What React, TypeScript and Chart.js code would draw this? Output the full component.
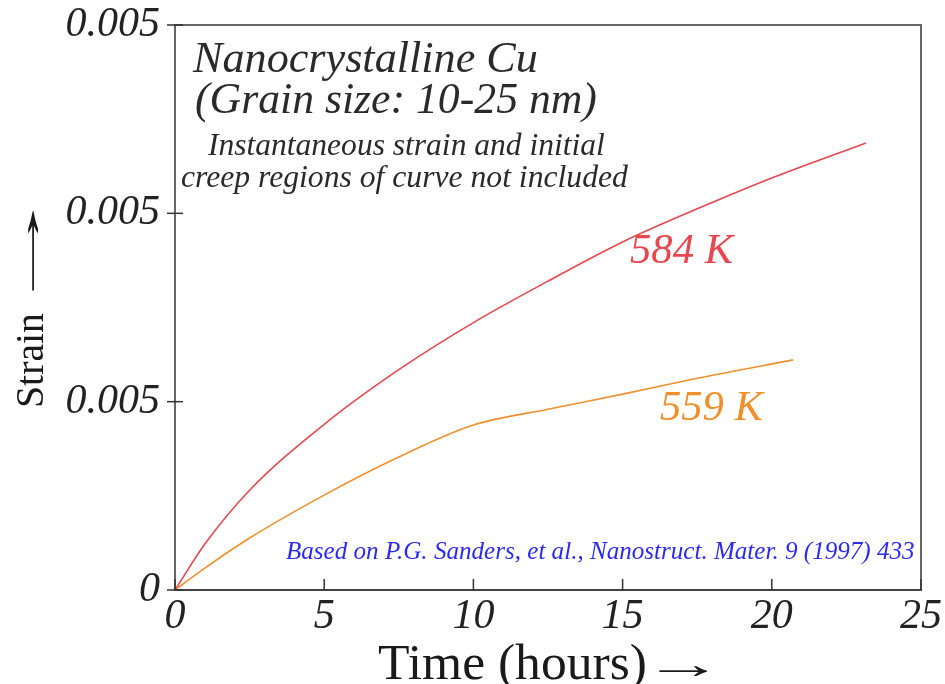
import React, { useEffect, useRef } from "react";
import { Chart, registerables } from "chart.js";

Chart.register(...registerables);

// ---- data ----
const hours584 = [0, 1, 2.5, 5, 7.5, 10, 12.5, 15, 17.5, 20, 23.16];
const strain584 = [0, 0.00122, 0.00265, 0.0044, 0.00585, 0.0071, 0.0082, 0.00924, 0.01012, 0.01094, 0.01187];

const hours559 = [0, 1, 2.5, 5, 7.5, 10, 12.5, 15, 17.5, 20.71];
const strain559 = [0, 0.00058, 0.00138, 0.00252, 0.00353, 0.00438, 0.0048, 0.0052, 0.00562, 0.00611];

const xTickValues = [0, 5, 10, 15, 20, 25];
const xTickLabels = ["0", "5", "10", "15", "20", "25"];
const yTickValues = [0, 0.005, 0.01, 0.015];
const yTickLabels = ["0", "0.005", "0.005", "0.005"];

const seriesLabels = ["584 K", "559 K"];
// label anchor (hours, strain) at text baseline-left
const labelHours = [15.25, 16.25];
const labelStrain = [0.00868, 0.00451];

const titleLines = ["Nanocrystalline Cu", "(Grain size: 10-25 nm)"];
const noteLines = ["Instantaneous strain and initial", "creep regions of curve not included"];
const citation = "Based on P.G. Sanders, et al., Nanostruct. Mater. 9 (1997) 433";
const xTitle = "Time (hours)";
const yTitle = "Strain";
const arrowChar = "→";

const SERIF = "'Liberation Serif', 'Times New Roman', serif";
const RED = "#e8474f";
const ORANGE = "#f0902c";

function fitSize(ctx: CanvasRenderingContext2D, text: string, width: number, style: string) {
  ctx.font = `${style} 100px ${SERIF}`;
  const w = ctx.measureText(text).width;
  return (100 * width) / w;
}

function drawFit(
  ctx: CanvasRenderingContext2D,
  text: string,
  x: number,
  y: number,
  width: number,
  style: string,
  color: string
) {
  const size = fitSize(ctx, text, width, style);
  ctx.font = `${style} ${size}px ${SERIF}`;
  ctx.fillStyle = color;
  ctx.textAlign = "left";
  ctx.textBaseline = "alphabetic";
  ctx.fillText(text, x, y);
}

// arrow glyph stretched so that its ink spans [x, x+length], shaft centred on y
function drawArrow(ctx: CanvasRenderingContext2D, x: number, y: number, length: number, size: number, color: string) {
  ctx.font = `normal ${size}px ${SERIF}`;
  ctx.textAlign = "left";
  ctx.textBaseline = "alphabetic";
  const m = ctx.measureText(arrowChar);
  const inkL = -m.actualBoundingBoxLeft;
  const inkW = m.actualBoundingBoxRight + m.actualBoundingBoxLeft;
  const mid = (m.actualBoundingBoxAscent - m.actualBoundingBoxDescent) / 2;
  const sx = length / inkW;
  ctx.save();
  ctx.translate(x, y + mid);
  ctx.scale(sx, 1);
  ctx.fillStyle = color;
  ctx.fillText(arrowChar, -inkL, 0);
  ctx.restore();
}

const decorPlugin = {
  id: "decor",
  afterDraw(chart: any) {
    const { ctx, chartArea, scales } = chart;
    const xs = scales.x;
    const ys = scales.y;
    ctx.save();
    // frame
    ctx.strokeStyle = "#666";
    ctx.lineWidth = 2;
    ctx.strokeRect(chartArea.left, chartArea.top, chartArea.right - chartArea.left, chartArea.bottom - chartArea.top);
    ctx.strokeStyle = "#444";
    ctx.beginPath();
    ctx.moveTo(chartArea.left, chartArea.bottom);
    ctx.lineTo(chartArea.right, chartArea.bottom);
    ctx.stroke();
    // tick marks
    ctx.lineWidth = 1.5;
    ctx.strokeStyle = "#333";
    yTickValues.forEach((v) => {
      const py = ys.getPixelForValue(v);
      ctx.beginPath();
      ctx.moveTo(chartArea.left - 8, py);
      ctx.lineTo(chartArea.left + 8, py);
      ctx.stroke();
    });
    xTickValues.forEach((v) => {
      const px = xs.getPixelForValue(v);
      ctx.beginPath();
      ctx.moveTo(px, chartArea.bottom);
      ctx.lineTo(px, chartArea.bottom - 11);
      ctx.stroke();
    });

    // annotation text block
    drawFit(ctx, titleLines[0], chartArea.left + 18, chartArea.top + 47, 345, "italic", "#2a2a2a");
    drawFit(ctx, titleLines[1], chartArea.left + 20, chartArea.top + 88, 402, "italic", "#2a2a2a");
    drawFit(ctx, noteLines[0], chartArea.left + 33, chartArea.top + 130, 397, "italic", "#2a2a2a");
    drawFit(ctx, noteLines[1], chartArea.left + 6, chartArea.top + 162, 447, "italic", "#2a2a2a");

    // citation
    drawFit(ctx, citation, chartArea.left + 111, chartArea.bottom - 31, 629, "italic", "#2b2bf0");

    // series labels
    const colors = [RED, ORANGE];
    seriesLabels.forEach((t, i) => {
      drawFit(ctx, t, xs.getPixelForValue(labelHours[i]), ys.getPixelForValue(labelStrain[i]), 103, "italic", colors[i]);
    });

    // x axis title
    drawFit(ctx, xTitle, 378, 679, 269, "normal", "#1a1a1a");
    drawArrow(ctx, 658, 671, 50, 42, "#1a1a1a");

    // y axis title (rotated)
    ctx.save();
    ctx.translate(43, 408);
    ctx.rotate(-Math.PI / 2);
    drawFit(ctx, yTitle, 0, 0, 95, "normal", "#1a1a1a");
    drawArrow(ctx, 115, -10, 83, 42, "#1a1a1a");
    ctx.restore();

    ctx.restore();
  },
};

export default function App() {
  const canvasRef = useRef<HTMLCanvasElement | null>(null);

  useEffect(() => {
    const canvas = canvasRef.current;
    if (!canvas) return;
    const tickFont = { family: SERIF, style: "italic" as const, size: 42 };
    const chart = new Chart(canvas, {
      type: "line",
      data: {
        datasets: [
          {
            label: seriesLabels[0],
            data: hours584.map((h, i) => ({ x: h, y: strain584[i] })),
            borderColor: RED,
            borderWidth: 1.6,
            pointRadius: 0,
            fill: false,
            cubicInterpolationMode: "monotone",
          },
          {
            label: seriesLabels[1],
            data: hours559.map((h, i) => ({ x: h, y: strain559[i] })),
            borderColor: ORANGE,
            borderWidth: 1.6,
            pointRadius: 0,
            fill: false,
            cubicInterpolationMode: "monotone",
          },
        ],
      },
      options: {
        animation: false,
        responsive: false,
        maintainAspectRatio: false,
        layout: { padding: { left: 0, right: 24, top: 25, bottom: 0 } },
        plugins: { legend: { display: false }, tooltip: { enabled: false } },
        scales: {
          x: {
            type: "linear",
            min: 0,
            max: 25,
            afterBuildTicks: (s: any) => {
              s.ticks = xTickValues.map((v) => ({ value: v }));
            },
            ticks: {
              font: tickFont,
              color: "#222",
              padding: 2,
              maxRotation: 0,
              autoSkip: false,
              callback: (_v: any, i: number) => xTickLabels[i],
            },
            grid: { display: false, drawTicks: false },
            border: { display: false },
            afterFit: (s: any) => {
              s.height = 94;
              s.paddingLeft = 0;
              s.paddingRight = 0;
            },
          },
          y: {
            type: "linear",
            min: 0,
            max: 0.015,
            afterBuildTicks: (s: any) => {
              s.ticks = yTickValues.map((v) => ({ value: v }));
            },
            ticks: {
              font: tickFont,
              color: "#222",
              padding: 15,
              autoSkip: false,
              callback: (_v: any, i: number) => yTickLabels[i],
            },
            grid: { display: false, drawTicks: false },
            border: { display: false },
            afterFit: (s: any) => {
              s.width = 175;
              s.paddingTop = 0;
              s.paddingBottom = 0;
            },
          },
        },
      },
      plugins: [decorPlugin],
    });
    return () => chart.destroy();
  }, []);

  return (
    <div style={{ position: "absolute", left: 0, top: 0, width: 945, height: 684, background: "#fff" }}>
      <canvas ref={canvasRef} width={945} height={684} style={{ width: 945, height: 684 }} />
    </div>
  );
}
